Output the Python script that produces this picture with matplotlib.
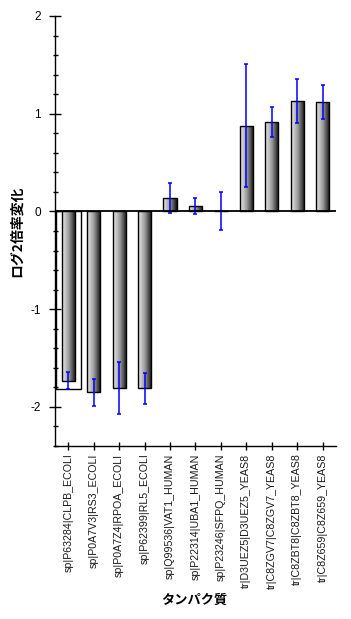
import numpy as np
import matplotlib
matplotlib.use('Agg')
from matplotlib import pyplot as plt
from matplotlib.colors import LinearSegmentedColormap
from matplotlib.ticker import MultipleLocator

plt.rcParams['font.family'] = ['Liberation Sans', 'Noto Sans CJK JP', 'DejaVu Sans']

# タンパク質ごとの値
proteins = ['sp|P63284|CLPB_ECOLI', 'sp|P0A7V3|RS3_ECOLI', 'sp|P0A7Z4|RPOA_ECOLI',
            'sp|P62399|RL5_ECOLI', 'sp|Q99536|VAT1_HUMAN', 'sp|P22314|UBA1_HUMAN',
            'sp|P23246|SFPQ_HUMAN', 'tr|D3UEZ5|D3UEZ5_YEAS8', 'tr|C8ZGV7|C8ZGV7_YEAS8',
            'tr|C8ZBT8|C8ZBT8_YEAS8', 'tr|C8Z659|C8Z659_YEAS8']
log2fc = [-1.73, -1.85, -1.81, -1.81, 0.14, 0.058, 0.007, 0.875, 0.915, 1.13, 1.12]
err = [0.085, 0.14, 0.265, 0.16, 0.153, 0.082, 0.194, 0.63, 0.158, 0.225, 0.17]
# 1本目の後ろにある白い枠
ghost_value = -1.82

fig = plt.figure(figsize=(3.51, 6.19), dpi=100)
ax = fig.add_axes([0.1567, 0.2795, 0.8003, 0.6947])

x = np.arange(len(proteins))
cmap = LinearSegmentedColormap.from_list('g', ['#ececec', '#9a9a9a', '#101010'])
grad = np.linspace(0, 1, 64).reshape(1, -1)

ax.bar(0, ghost_value, width=0.97, color='white', edgecolor='black', linewidth=1.0, zorder=1)
bars = ax.bar(x, log2fc, width=0.52, color='none', edgecolor='black', linewidth=1.0, zorder=3)
for b in bars:
    x0, y0 = b.get_x(), b.get_y()
    w, h = b.get_width(), b.get_height()
    # 白い下地 + グラデーション
    ax.bar(x0 + w / 2, h, bottom=y0, width=w, color='white', linewidth=0, zorder=1.5)
    im = ax.imshow(grad, extent=[x0, x0 + w, min(y0, y0 + h), max(y0, y0 + h)],
                   aspect='auto', cmap=cmap, zorder=2, interpolation='bilinear')
    im.set_clip_path(b)

ax.errorbar(x, log2fc, yerr=err, fmt='none', ecolor='#0000ff', elinewidth=1.1,
            capsize=1.6, capthick=1.1, zorder=4)
ax.axhline(0, color='black', linewidth=1.3, zorder=5)

ax.set_xlim(-0.52, 10.52)
ax.set_ylim(-2.4, 2.0)
ax.yaxis.set_major_locator(MultipleLocator(1))
ax.yaxis.set_minor_locator(MultipleLocator(0.2))
ax.set_yticks([-2, -1, 0, 1, 2])
ax.set_yticklabels(['-2', '-1', '0', '1', '2'])
ax.set_xticks(x)
ax.set_xticklabels(proteins, rotation=90, fontsize=7.65, color='#1a1a1a')

ax.tick_params(axis='y', which='major', direction='inout', length=8, width=1.0,
               labelsize=8.5, pad=6)
ax.tick_params(axis='y', which='minor', direction='inout', length=3.6, width=1.0)
ax.tick_params(axis='x', which='major', direction='inout', length=5.8, width=1.0, pad=2.5)

for s in ['top', 'right']:
    ax.spines[s].set_visible(False)
for s in ['left', 'bottom']:
    ax.spines[s].set_linewidth(1.0)

fig.text(0.049, 0.627, 'ログ2倍率変化', rotation=90, ha='center', va='center',
         fontsize=10, fontweight='bold', family=['Noto Sans CJK JP', 'DejaVu Sans'])
fig.text(0.554, 0.031, 'タンパク質', ha='center', va='center',
         fontsize=9.5, fontweight='bold', family=['Noto Sans CJK JP', 'DejaVu Sans'])

fig.savefig('out.png', dpi=100)
